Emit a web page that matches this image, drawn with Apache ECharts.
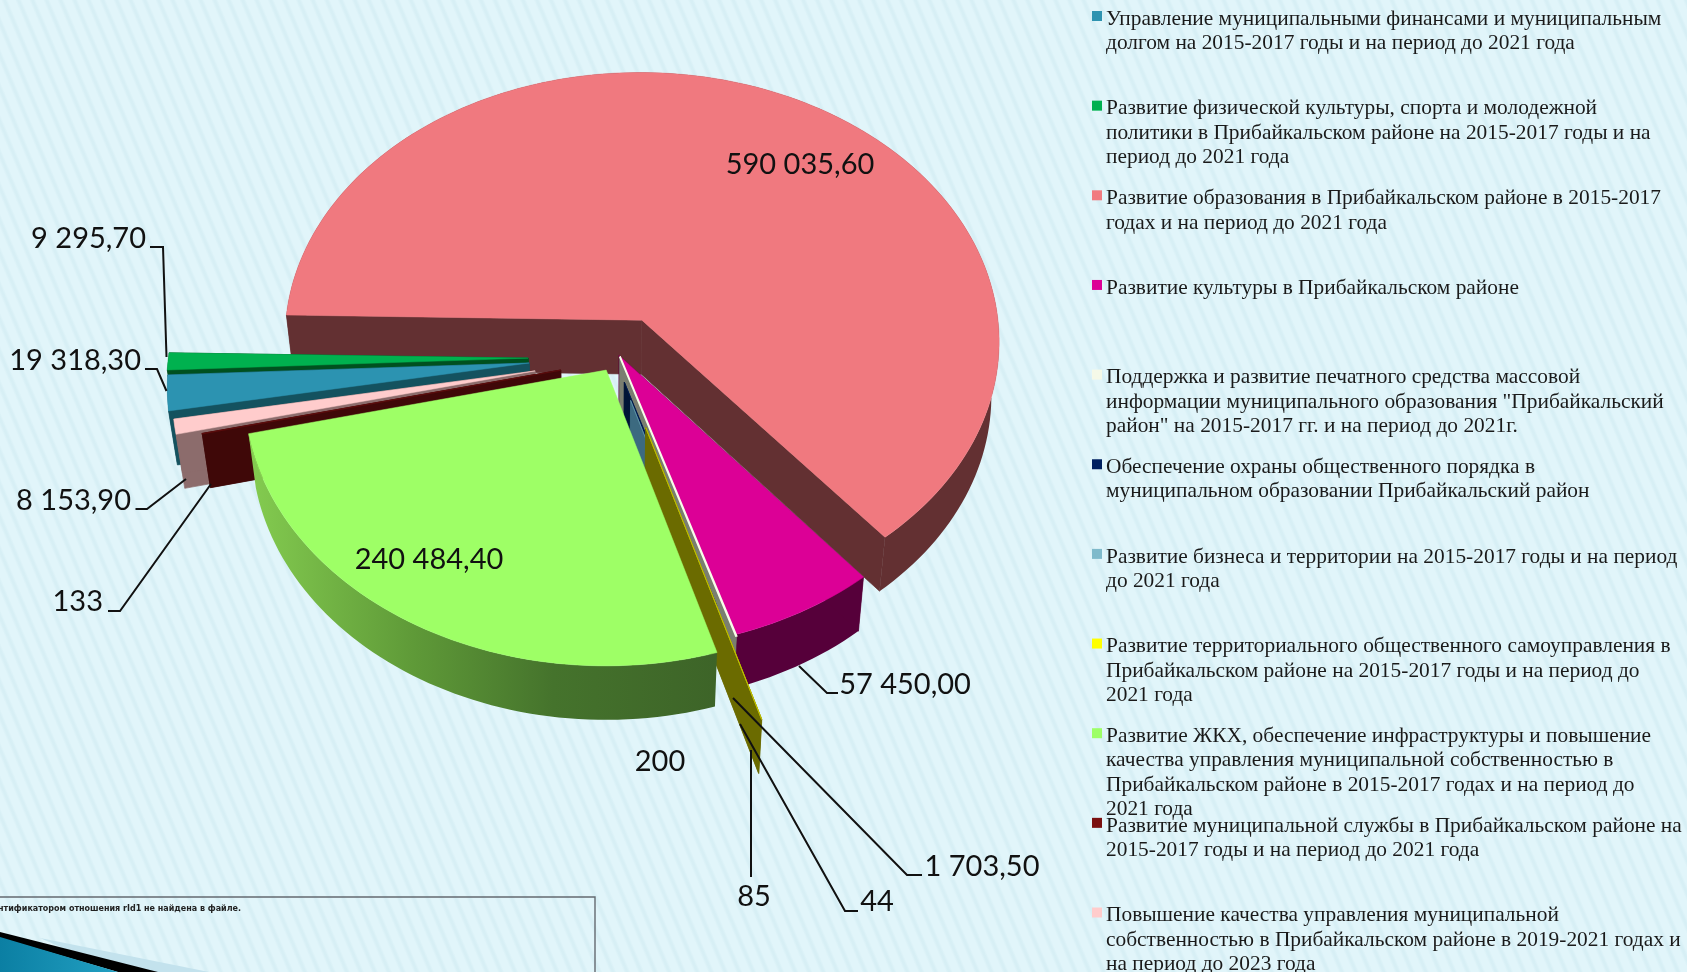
<!DOCTYPE html>
<html><head><meta charset="utf-8">
<style>
html,body{margin:0;padding:0;width:1687px;height:972px;overflow:hidden;
background:repeating-linear-gradient(67deg,#e1f5fa 0,#e1f5fa 6.5px,#d7eff5 9px,#d7eff5 10.5px,#e1f5fa 12.9px);}
#c{width:1687px;height:972px}
</style>
<script src="https://cdn.jsdelivr.net/npm/echarts@6/dist/echarts.min.js"></script>
</head><body><div id="c"></div>
<script>
// ---- data ----
const categories = [
 "Управление муниципальными финансами и муниципальным\nдолгом на 2015-2017 годы и на период до 2021 года",
 "Развитие физической культуры, спорта и молодежной\nполитики в Прибайкальском районе на 2015-2017 годы и на\nпериод до 2021 года",
 "Развитие образования в Прибайкальском районе в 2015-2017\nгодах и на период до 2021 года",
 "Развитие культуры в Прибайкальском районе",
 "Поддержка и развитие печатного средства массовой\nинформации муниципального образования \"Прибайкальский\nрайон\" на 2015-2017 гг. и на период до 2021г.",
 "Обеспечение охраны общественного порядка в\nмуниципальном образовании Прибайкальский район",
 "Развитие бизнеса и территории на 2015-2017 годы и на период\nдо 2021 года",
 "Развитие территориального общественного самоуправления в\nПрибайкальском районе на 2015-2017 годы и на период до\n2021 года",
 "Развитие ЖКХ, обеспечение инфраструктуры и повышение\nкачества управления муниципальной собственностью в\nПрибайкальском районе в 2015-2017 годах и на период до\n2021 года",
 "Развитие муниципальной службы в Прибайкальском районе на\n2015-2017 годы и на период до 2021 года",
 "Повышение качества управления муниципальной\nсобственностью в Прибайкальском районе в 2019-2021 годах и\nна период до 2023 года"
];
const values = [19318.30, 9295.70, 590035.60, 57450.00, 200, 1703.50, 44, 85, 240484.40, 133, 8153.90];
const valueLabels = ["19 318,30","9 295,70","590 035,60","57 450,00","200","1 703,50","44","85","240 484,40","133","8 153,90"];

// ---- style / layout ----
const topColors  = ["#2c93b1","#00b14f","#f0797f","#dc0096","#f8fcea","#002060","#7fbacb","#bdbd00","#9eff66","#5a0c0c","#ffcccc"];
const wallColors = ["#14525f","#00501f","#633032","#56003a","#7a7e70","#001436","#3c6a80","#6b6b00","#4a7a30","#3f0808","#8c6c6c"];
const legendColors = ["#2e93b0","#00b050","#f17b80","#dc0096","#f5f9e8","#002060","#7fbacb","#ffff00","#9dff66","#7a1010","#ffcccc"];
// explosion of each slice on the pie plane, in radius units
const explode = [[-.230,.011],[-.233,-.007],[.084,-.148],[.020,-.016],[.022,-.012],[.034,.081],[.051,.147],[.092,.244],[-.016,.037],[-.142,.037],[-.213,.040]];
const radiusScale = {5:.8, 6:.7};
const thinStroke = {4:2, 5:.3, 6:.3, 7:1, 9:1.2};
const drawOrder = [2,1,0,10,9,3,4,5,6,7,8];
const startAngle = -100, CX = 612, CY = 360, R = 360, RY = 272, PERSP = .075, DEPTH = 54;
const GRADIENT_WALL = 8;

const total = values.reduce((a,b)=>a+b,0);
const starts = []; values.reduce((acc,v,i)=>{starts[i]=acc;return acc+v/total*360;},startAngle);

function project(gx,gy){const s=1/(1-PERSP*gy);return {x:CX+R*gx*s,y:CY+RY*gy*s,s};}
function low(p){return [CX+(p.x-CX)*.98,p.y+DEPTH];}
function up(p){return [p.x,p.y];}

function renderSlice(params,api){
  const i = api.value(0), v = api.value(1);
  const a0 = starts[i], sweep = v/total*360, [ox,oy]=explode[i], rs=radiusScale[i]||1;
  const n = Math.max(1,Math.ceil(sweep/1.5));
  const rim=[];
  for(let j=0;j<=n;j++){const t=(a0+sweep*j/n)*Math.PI/180;rim.push(project(ox+rs*Math.sin(t),oy-rs*Math.cos(t)));}
  const apex=project(ox,oy);
  const wall=wallColors[i];
  const rad=(pts)=>({type:'polygon',shape:{points:pts},style:{fill:wall,stroke:wall,lineWidth:.7}});
  const kids=[];
  const rimFill = i===GRADIENT_WALL ? new echarts.graphic.LinearGradient(0,0,1,0,[{offset:0,color:'#84cc50'},{offset:.35,color:'#5f9a38'},{offset:.65,color:'#45732c'},{offset:1,color:'#3d6428'}]) : wall;
  kids.push({type:'polygon',shape:{points:rim.map(up).concat(rim.slice().reverse().map(low))},style:{fill:rimFill}});
  if(i!==GRADIENT_WALL){
    kids.push(rad([up(apex),up(rim[0]),low(rim[0]),low(apex)]));
    kids.push(rad([up(apex),up(rim[n]),low(rim[n]),low(apex)]));
  }
  kids.push({type:'polygon',shape:{points:[up(apex)].concat(rim.map(up))},
    style:{fill:topColors[i],stroke:topColors[i],lineWidth:thinStroke[i]||.5}});
  return {type:'group',children:kids};
}

// leader lines: label index, then its anchor polyline
const leaders = [
 {i:1, pts:[[150,247],[163,247],[166.5,357]]},
 {i:0, pts:[[145,369],[157,369],[166.5,391]]},
 {i:10,pts:[[135.5,509],[147,509],[186,479]]},
 {i:9, pts:[[108,611],[120,611],[211,484]]},
 {i:3, pts:[[799,666],[827,693],[838,693]]},
 {i:7, pts:[[751,750],[751,877]]},
 {i:6, pts:[[740,724],[845,911],[858,911]]},
 {i:5, pts:[[733,698],[907,875],[922,875]]}
];
const labelPos = [
 {i:1, x:146,y:239,a:'right'},{i:0,x:141,y:361,a:'right'},{i:10,x:131,y:501,a:'right'},{i:9,x:103,y:602,a:'right'},
 {i:2, x:800,y:165,a:'center'},{i:8,x:429,y:560,a:'center'},{i:3,x:905,y:685,a:'center'},{i:4,x:660,y:762,a:'center'},
 {i:7, x:754,y:897,a:'center'},{i:6,x:877,y:902,a:'center'},{i:5,x:982,y:867,a:'center'}
];
const graphics=[];
leaders.forEach(l=>graphics.push({type:'polyline',shape:{points:l.pts},style:{stroke:'#111',lineWidth:2,fill:null},z:10}));
labelPos.forEach(l=>graphics.push({type:'text',x:l.x,y:l.y,z:11,style:{text:valueLabels[l.i],font:'29px Lato',fill:'#111',textAlign:l.a,textVerticalAlign:'middle'}}));
categories.forEach((c,i)=>{
  const y=18+i*89.65;
  graphics.push({type:'rect',shape:{x:1092,y:y-7,width:10,height:10},style:{fill:legendColors[i]},z:10});
  graphics.push({type:'text',x:1106,y:y-11,z:11,style:{text:c,font:'21.4px "Liberation Serif"',lineHeight:24.4,fill:'#1a1a1a',textAlign:'left',textVerticalAlign:'top'}});
});
// missing-image placeholder in the lower left corner
graphics.push({type:'polyline',shape:{points:[[0,897],[595,897],[595,972]]},style:{stroke:'#646a70',lineWidth:1.4,fill:null},z:9});
graphics.push({type:'text',x:241,y:909,z:9,style:{text:'нтификатором отношения rId1 не найдена в файле.',font:'bold 8px "DejaVu Sans"',fill:'#222',textAlign:'right',textVerticalAlign:'middle'}});
graphics.push({type:'polygon',shape:{points:[[40,938],[209,972],[118,972]]},style:{fill:'#c3e2ed'},z:8});
graphics.push({type:'polygon',shape:{points:[[0,932],[158,972],[118,972],[0,938]]},style:{fill:'#000'},z:9});
graphics.push({type:'polygon',shape:{points:[[0,937],[118,972],[0,972]]},style:{fill:new echarts.graphic.LinearGradient(0,0,1,0,[{offset:0,color:'#0b7fa3'},{offset:1,color:'#22a0c2'}])},z:9});

const chart=echarts.init(document.getElementById('c'),null,{renderer:'canvas'});
chart.setOption({
  animation:false,
  backgroundColor:'transparent',
  tooltip:{show:false},
  series:[{type:'custom',coordinateSystem:'none',silent:true,renderItem:renderSlice,
    data:drawOrder.map(i=>[i,values[i]])}],
  graphic:{elements:graphics}
});
</script></body></html>
